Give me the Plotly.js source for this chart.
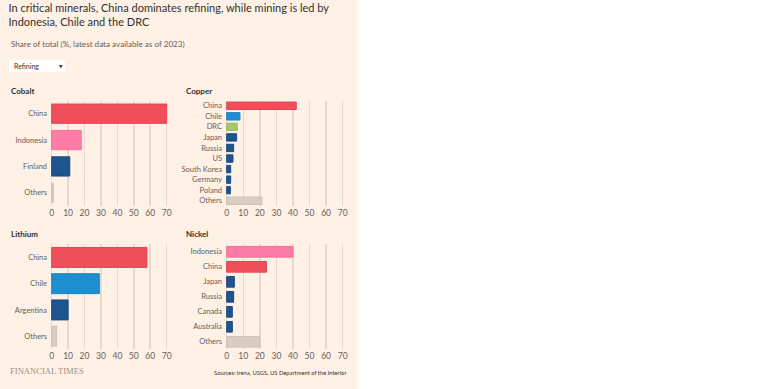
<!DOCTYPE html>
<html>
<head>
<meta charset="utf-8">
<script src="https://cdn.plot.ly/plotly-3.0.1.min.js"></script>
<style>html,body{margin:0;padding:0;background:#fff;}#chart{width:768px;height:389px;}</style>
</head>
<body>
<div id="chart"></div>
<script>
// ---- data ----
var cobaltCountries = ['China', 'Indonesia', 'Finland', 'Others'];
var cobaltValues = [70, 18, 11, 1];

var copperCountries = ['China', 'Chile', 'DRC', 'Japan', 'Russia', 'US', 'South Korea', 'Germany', 'Poland', 'Others'];
var copperValues = [42, 8, 6.4, 6, 4.2, 3.8, 2.4, 2.4, 2.2, 21.3];

var lithiumCountries = ['China', 'Chile', 'Argentina', 'Others'];
var lithiumValues = [58, 29, 10, 3];

var nickelCountries = ['Indonesia', 'China', 'Japan', 'Russia', 'Canada', 'Australia', 'Others'];
var nickelValues = [40, 24, 4.6, 4.2, 3.4, 3.4, 20];

var xTicks = [0, 10, 20, 30, 40, 50, 60, 70];

// ---- style ----
var W = 768, H = 389;
function px(x) { return x / W; }
function py(y) { return 1 - y / H; }

var colorMap = {
  'China': '#f04e5b',
  'Indonesia': '#ff7ba8',
  'Chile': '#1d8fd0',
  'DRC': '#a3c86e',
  'Others': '#d9ccc3'
};
var otherColor = '#1e558f';
function colorsFor(list) { return list.map(function (c) { return colorMap[c] || otherColor; }); }
function lineColorsFor(list) {
  return list.map(function (c) {
    var m = { 'China': '#e8404f', 'Indonesia': '#f86f9d', 'Chile': '#1a84c0', 'DRC': '#97bd62', 'Others': '#cfc1b8' };
    return m[c] || '#174a80';
  });
}

var FONT = 'Lato, "Open Sans", sans-serif';
var TICKCOL = '#66605c';
var GRID = '#e6d8cc';

function bar(countries, values, xa, ya, w) {
  return {
    type: 'bar', orientation: 'h',
    y: countries, x: values,
    xaxis: xa, yaxis: ya,
    width: w,
    marker: { color: colorsFor(countries), line: { color: lineColorsFor(countries), width: 1 } },
    hoverinfo: 'x+y', showlegend: false
  };
}

var data = [
  bar(cobaltCountries, cobaltValues, 'x', 'y', 0.73),
  bar(copperCountries, copperValues, 'x2', 'y2', 0.7),
  bar(lithiumCountries, lithiumValues, 'x3', 'y3', 0.76),
  bar(nickelCountries, nickelValues, 'x4', 'y4', 0.71)
];

var leftDom = [px(50.06), px(168.3)];
var rightDom = [px(225.04), px(344.36)];
var topDom = [py(206), py(100.5)];
var botDom = [py(349.3), py(244.3)];

function xAxis(dom, anchor) {
  return {
    domain: dom, anchor: anchor, range: [-1, 71],
    tickvals: xTicks, ticktext: xTicks.map(String),
    showgrid: true, gridcolor: GRID, gridwidth: 1.5,
    zeroline: false, showline: false, ticks: '',
    tickfont: { family: FONT, size: 8.5, color: TICKCOL },
    fixedrange: true
  };
}
function yAxis(dom, anchor, cats) {
  return {
    domain: dom, anchor: anchor,
    type: 'category', categoryorder: 'array', categoryarray: cats,
    autorange: 'reversed',
    showgrid: false, zeroline: false, showline: false, ticks: '',
    ticklabelstandoff: 2,
    tickfont: { family: FONT, size: 7.5, color: TICKCOL },
    fixedrange: true
  };
}

var layout = {
  width: W, height: H,
  margin: { l: 0, r: 0, t: 0, b: 0 },
  paper_bgcolor: '#ffffff',
  plot_bgcolor: 'rgba(0,0,0,0)',
  font: { family: FONT, color: '#33302e' },
  title: {
    text: 'In critical minerals, China dominates refining, while mining is led by<br>Indonesia, Chile and the DRC',
    x: px(8.5), xanchor: 'left', xref: 'container',
    y: 1 - 11.5 / H, yanchor: 'top', yref: 'container',
    font: { family: FONT, size: 11, color: '#33302e' }
  },
  xaxis: xAxis(leftDom, 'y'),
  yaxis: yAxis(topDom, 'x', cobaltCountries),
  xaxis2: xAxis(rightDom, 'y2'),
  yaxis2: yAxis(topDom, 'x2', copperCountries),
  xaxis3: xAxis(leftDom, 'y3'),
  yaxis3: yAxis(botDom, 'x3', lithiumCountries),
  xaxis4: xAxis(rightDom, 'y4'),
  yaxis4: yAxis(botDom, 'x4', nickelCountries),
  bargap: 0.27,
  shapes: [
    { type: 'rect', xref: 'paper', yref: 'paper', x0: 0, x1: px(357), y0: 0, y1: 1,
      fillcolor: '#fff1e5', line: { width: 0 }, layer: 'below' },
    { type: 'rect', xref: 'paper', yref: 'paper', x0: px(9), x1: px(65), y0: py(72), y1: py(60),
      fillcolor: '#ffffff', line: { width: 0 }, layer: 'below' }
  ],
  annotations: [
    { text: 'Share of total (%, latest data available as of 2023)', xref: 'paper', yref: 'paper',
      x: px(8.5), y: py(44), xanchor: 'left', yanchor: 'middle', showarrow: false,
      font: { family: FONT, size: 8.1, color: '#66605c' } },
    { text: 'Refining', xref: 'paper', yref: 'paper',
      x: px(11.5), y: py(66), xanchor: 'left', yanchor: 'middle', showarrow: false,
      font: { family: FONT, size: 7, color: '#33302e' } },
    { text: '▼', xref: 'paper', yref: 'paper',
      x: px(61), y: py(66), xanchor: 'center', yanchor: 'middle', showarrow: false,
      font: { family: 'DejaVu Sans', size: 4.5, color: '#33302e' } },
    { text: '<b>Cobalt</b>', xref: 'paper', yref: 'paper',
      x: px(9), y: py(91), xanchor: 'left', yanchor: 'middle', showarrow: false,
      font: { family: FONT, size: 8, color: '#33302e' } },
    { text: '<b>Copper</b>', xref: 'paper', yref: 'paper',
      x: px(184), y: py(91), xanchor: 'left', yanchor: 'middle', showarrow: false,
      font: { family: FONT, size: 8, color: '#33302e' } },
    { text: '<b>Lithium</b>', xref: 'paper', yref: 'paper',
      x: px(9), y: py(234), xanchor: 'left', yanchor: 'middle', showarrow: false,
      font: { family: FONT, size: 8, color: '#33302e' } },
    { text: '<b>Nickel</b>', xref: 'paper', yref: 'paper',
      x: px(184), y: py(234), xanchor: 'left', yanchor: 'middle', showarrow: false,
      font: { family: FONT, size: 8, color: '#33302e' } },
    { text: 'FINANCIAL TIMES', xref: 'paper', yref: 'paper',
      x: px(7.5), y: py(371), xanchor: 'left', yanchor: 'middle', showarrow: false,
      font: { family: '"Liberation Serif", "DejaVu Serif", serif', size: 8.6, color: '#9a918a' } },
    { text: 'Sources: Irena, USGS, US Department of the Interior', xref: 'paper', yref: 'paper',
      x: px(349), y: py(372), xanchor: 'right', yanchor: 'middle', showarrow: false,
      font: { family: FONT, size: 5.8, color: '#33302e' } }
  ]
};

Plotly.newPlot('chart', data, layout, { displayModeBar: false, staticPlot: true });
</script>
</body>
</html>
